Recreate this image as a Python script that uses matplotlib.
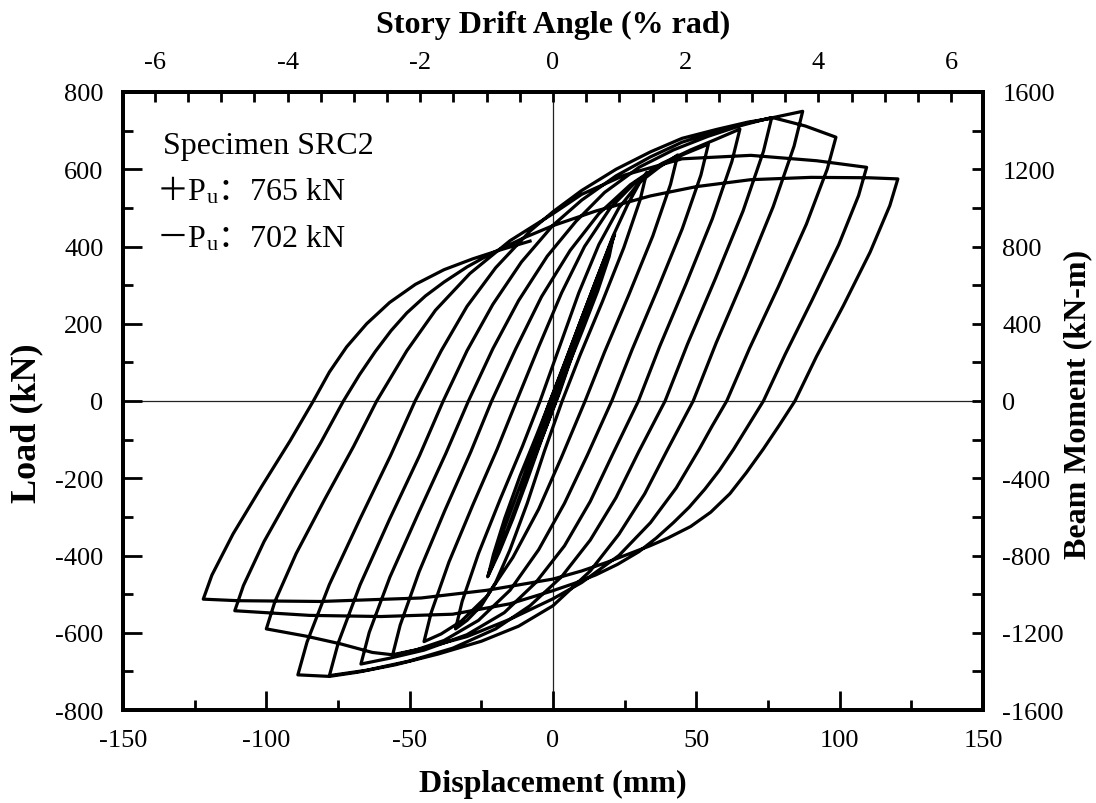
import matplotlib
matplotlib.use("Agg")
import matplotlib.pyplot as plt
from matplotlib.ticker import MultipleLocator

plt.rcParams["font.family"] = ["Liberation Serif", "Noto Sans CJK SC"]
plt.rcParams["axes.unicode_minus"] = False

STORY_H_MM = 2315.0   # drift (% rad) = disp / H * 100
MOMENT_ARM_M = 2.0    # beam moment (kN-m) = load * arm

# ---- hysteresis branches: (displacement mm, load kN) ----
# small cycles before the first full +/-22 mm loop
elastic = [(0, 0), (5.5, 118), (0.8, 8), (-5.6, -114), (-0.8, -8),
           (11.0, 232), (1.6, 12), (-11.2, -228), (-1.5, -14),
           (10, 205), (21.5, 432), (17, 330), (10, 190), (2.2, 20), (-8, -175), (-16, -335),
           (-22.8, -455), (-17, -330), (-9, -170), (-1.8, -15), (8, 175), (15, 312)]

# "down" = from positive peak to negative peak, "up" = negative peak to next positive peak
down_1 = [(21, 425), (19.6, 374), (15.6, 285), (10.3, 183), (5.0, 85), (1.0, 0),
          (-4, -100), (-9, -205), (-14, -305), (-18.8, -392), (-22.6, -452)]
up_1 = [(-22.6, -452), (-20.8, -398), (-16.8, -303), (-11.5, -194), (-5.8, -90), (-1.0, 0),
        (4, 95), (9.5, 205), (15, 312), (21, 428), (26, 508), (30, 562), (32.7, 592)]

down_2 = [(32.7, 592), (30.4, 521), (24.7, 397), (17.1, 255), (9.4, 118), (3.2, 0),
          (-3, -130), (-9, -265), (-15, -385), (-20, -470), (-25, -530), (-30, -568), (-34, -590)]
up_2 = [(-34, -590), (-31.7, -519), (-26.0, -395), (-18.4, -254), (-10.7, -118), (-4.5, 0),
        (2, 135), (9, 280), (16, 405), (23, 500), (30, 565), (37, 605), (43.5, 637)]

down_3 = [(43.5, 637), (41.0, 561), (34.8, 427), (26.4, 274), (18.0, 127), (11.2, 0),
          (3, -145), (-5, -280), (-14, -405), (-23, -505), (-32, -570), (-39, -603), (-45, -623)]
up_3 = [(-45, -623), (-42.5, -548), (-36.3, -417), (-27.9, -268), (-19.5, -125), (-12.7, 0),
        (-5, 140), (3, 280), (11, 400), (20, 500), (29, 568), (38, 612), (46, 640), (54.2, 665)]

down_4 = [(54.2, 665), (51.6, 585), (45.1, 446), (36.3, 286), (27.6, 133), (20.5, 0),
          (12, -140), (4, -265), (-5, -385), (-15, -490), (-26, -568), (-38, -620), (-48, -645),
          (-56, -659)]
up_4 = [(-56, -659), (-53.3, -580), (-46.7, -442), (-37.7, -283), (-28.7, -132), (-21.4, 0),
        (-13, 135), (-4, 270), (6, 390), (16, 485), (27, 560), (38, 615), (48, 650), (57, 678),
        (65.2, 704)]

down_5 = [(65.2, 704), (62.4, 620), (55.6, 472), (46.4, 303), (37.2, 141), (29.8, 0),
          (21, -135), (13, -260), (4, -375), (-6, -470), (-17, -548), (-30, -605), (-45, -645),
          (-57, -666), (-67, -681)]
up_5 = [(-67, -681), (-64.1, -599), (-56.9, -456), (-47.1, -293), (-37.4, -136), (-29.5, 0),
        (-21, 135), (-12, 260), (-2, 375), (8, 465), (18, 540), (30, 605), (42, 650), (54, 685),
        (65, 712), (76.3, 734)]

down_6 = [(76.3, 734), (73.4, 646), (66.3, 492), (56.6, 316), (46.9, 147), (39.1, 0),
          (30, -130), (22, -250), (13, -360), (3, -455), (-8, -530), (-20, -590), (-35, -640),
          (-50, -673), (-65, -697), (-78, -711)]
up_6 = [(-78, -711), (-74.9, -626), (-67.3, -476), (-57.0, -306), (-46.6, -142), (-38.3, 0),
        (-30, 130), (-21, 250), (-11, 360), (0, 455), (10, 520), (22, 583), (34, 632), (45, 670),
        (57, 698), (68, 720), (80, 739), (87.1, 750)]

down_7 = [(87.1, 750), (84.1, 660), (76.8, 503), (66.9, 323), (56.9, 150), (48.9, 0),
          (40, -125), (32, -240), (23, -345), (13, -440), (0, -530), (-12, -583), (-25, -622),
          (-40, -655), (-55, -683), (-68, -702), (-78, -713), (-89, -709)]
up_7 = [(-89, -709), (-85.8, -624), (-78.0, -475), (-67.3, -305), (-56.7, -142), (-48.1, 0),
        (-39, 130), (-30, 245), (-20, 345), (-8, 440), (0, 490), (10, 545), (22, 600), (34, 645),
        (45, 680), (57, 703), (68, 722), (77, 733), (88, 712), (98.7, 683)]

down_8 = [(98.7, 683), (95.7, 601), (88.4, 458), (78.5, 294), (68.6, 137), (60.6, 0),
          (55.5, -65), (51, -125), (43, -225), (34, -315), (23, -400), (10, -470), (0, -512),
          (-15, -565), (-30, -610), (-45, -640), (-56, -657), (-63, -651), (-74, -629),
          (-86, -609), (-100, -590)]
up_8 = [(-100, -590), (-97.0, -519), (-89.6, -395), (-79.6, -254), (-69.6, -118), (-61.5, 0),
        (-56, 68), (-51, 130), (-41, 235), (-29, 330), (-15, 415), (0, 485), (10, 535), (25, 585),
        (45, 627), (69, 636), (92, 622), (109.4, 605)]

down_9 = [(109.4, 605), (106.6, 532), (99.7, 405), (90.3, 260), (81.0, 121), (73.4, 0),
          (68, -65), (63, -125), (58, -180), (53, -228), (47.5, -275), (42, -315), (36, -355),
          (30, -390), (22.5, -423), (15, -450), (7.5, -472), (0, -491), (-15, -525),
          (-35, -552), (-60, -558), (-85, -555), (-111, -543)]
up_9 = [(-111, -543), (-108.0, -478), (-100.8, -364), (-90.9, -233), (-81.1, -109), (-73.1, 0),
        (-67.5, 68), (-62, 128), (-56.5, 182), (-51, 228), (-44.5, 272), (-38, 308), (-30, 347),
        (-22, 380), (-10, 423), (0, 454), (15, 492), (34, 531), (50, 555), (69, 573), (90, 579),
        (110, 578), (120.3, 575)]

down_10 = [(120.3, 575), (117.5, 506), (110.6, 385), (101.3, 247), (91.9, 115), (84.4, 0),
           (79, -62), (73.4, -124), (67.5, -185), (61.7, -240), (55, -288), (48, -325),
           (40, -355), (33.8, -375), (25, -400), (18.7, -418), (10, -440), (0, -461),
           (-23, -490), (-46, -510), (-81, -519), (-110, -517), (-122, -513)]
up_10 = [(-122, -513), (-119.0, -451), (-111.6, -344), (-101.6, -221), (-91.7, -103), (-83.6, 0),
         (-78, 75), (-72, 140), (-65, 200), (-57, 255), (-48, 302), (-38, 340), (-28, 368),
         (-18, 392), (-8, 414)]

branches = [elastic,
            down_1, up_1, down_2, up_2, down_3, up_3, down_4, up_4, down_5, up_5,
            down_6, up_6, down_7, up_7, down_8, up_8, down_9, up_9, down_10, up_10]

path = [pt for br in branches for pt in br]
disp = [p[0] for p in path]
load = [p[1] for p in path]

# ---- figure ----
fig = plt.figure(figsize=(10.96, 8.04), dpi=100)
ax = fig.add_axes([123 / 1096, 1 - 711 / 804, 860 / 1096, 618 / 804])

ax.axhline(0, color="#222222", lw=0.9, zorder=1)
ax.axvline(0, color="#222222", lw=0.9, zorder=1)
ax.plot(disp, load, color="black", lw=2.3, solid_joinstyle="round", zorder=3)

ax.set_xlim(-150, 150)
ax.set_ylim(-800, 800)
ax.xaxis.set_major_locator(MultipleLocator(50))
ax.xaxis.set_minor_locator(MultipleLocator(25))
ax.yaxis.set_major_locator(MultipleLocator(200))
ax.yaxis.set_minor_locator(MultipleLocator(100))
ax.tick_params(which="both", direction="in", width=2, labelsize=19, pad=14,
               top=False, right=False)
ax.tick_params(which="major", length=14)
ax.tick_params(which="minor", length=7)

# top axis: story drift angle
ax_top = ax.twiny()
ax_top.set_xlim(-150 / STORY_H_MM * 100, 150 / STORY_H_MM * 100)
ax_top.xaxis.set_major_locator(MultipleLocator(2))
ax_top.xaxis.set_minor_locator(MultipleLocator(0.5))
ax_top.tick_params(which="both", direction="in", length=7, width=2, labelsize=19, pad=14)

# right axis: beam moment
ax_r = ax.twinx()
ax_r.set_ylim(-800 * MOMENT_ARM_M, 800 * MOMENT_ARM_M)
ax_r.yaxis.set_major_locator(MultipleLocator(400))
ax_r.yaxis.set_minor_locator(MultipleLocator(200))
ax_r.tick_params(which="both", direction="in", length=8, width=2, labelsize=19, pad=14)

for a in (ax, ax_top, ax_r):
    for sp in a.spines.values():
        sp.set_linewidth(2.6)

# axis titles
fig.text(553 / 1096, 1 - 25 / 804, "Story Drift Angle (% rad)", ha="center", va="center",
         fontsize=23, fontweight="bold")
fig.text(553 / 1096, 1 - 784 / 804, "Displacement (mm)", ha="center", va="center",
         fontsize=23, fontweight="bold")
fig.text(27 / 1096, 1 - 423 / 804, "Load (kN)", ha="center", va="center", rotation=90,
         fontsize=26, fontweight="bold")
fig.text(1078 / 1096, 1 - 404 / 804, "Beam Moment (kN-m)", ha="center", va="center",
         rotation=90, fontsize=23, fontweight="bold")

# specimen annotation
ax.text(0.0465, 0.9013, "Specimen SRC2", transform=ax.transAxes, fontsize=23, va="baseline")
for sign, value, yb in [("＋", 765, 0.8269), ("－", 702, 0.7508)]:
    t1 = ax.text(0.039, yb, sign + "P", transform=ax.transAxes, fontsize=23, va="baseline")
    tu = ax.annotate("u", xy=(1, 0), xycoords=t1, xytext=(0.5, -1), textcoords="offset points",
                     fontsize=16, va="bottom", ha="left")
    ax.annotate(f"：{value} kN", xy=(1, 0), xycoords=tu, xytext=(0, 1),
                textcoords="offset points", fontsize=23, va="bottom", ha="left")

fig.savefig("out.png", dpi=100)
